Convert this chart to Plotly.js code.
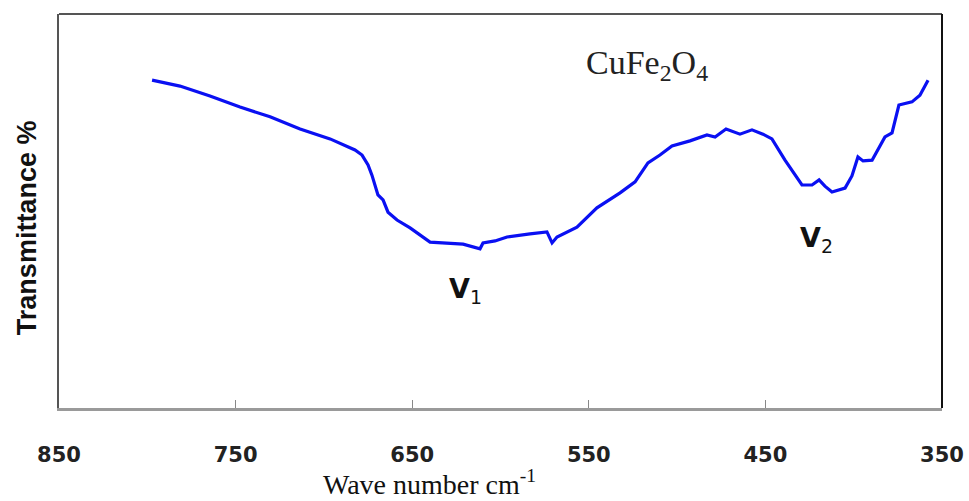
<!DOCTYPE html>
<html><head><meta charset="utf-8">
<script src="https://cdn.plot.ly/plotly-3.0.1.min.js"></script>
<style>html,body{margin:0;padding:0;background:#fff}#chart{width:969px;height:501px}</style>
</head><body><div id="chart"></div>
<script>
// Wavenumber (cm-1)
const wavenumber = [797.3,781.5,764.5,747.5,730.5,713.5,696.5,682.4,678.4,675.0,
  672.8,671.1,669.4,666.5,663.7,658.6,651.2,639.9,631.4,621.2,
  611.6,609.9,603.1,596.3,583.3,573.7,570.8,568.0,556.7,545.4,
  532.3,523.8,516.5,509.7,502.9,492.7,483.1,478.5,472.3,464.4,
  457.6,451.4,446.3,438.9,429.3,423.6,419.6,416.3,412.3,404.9,
  401.0,397.6,394.7,389.6,382.3,378.3,374.4,367.0,362.5,357.9];
// Transmittance (arbitrary %)
const transmittance = [83.2,81.7,79.2,76.4,73.9,70.8,68.3,65.5,64.2,61.7,
  59.1,56.6,54.1,52.8,49.7,47.7,45.7,42.1,41.9,41.6,
  40.4,41.9,42.4,43.4,44.2,44.7,41.9,43.4,45.9,50.8,
  54.6,57.4,62.2,64.2,66.5,67.8,69.3,68.8,70.8,69.5,
  70.6,69.5,68.3,62.9,56.6,56.6,57.9,56.3,54.8,55.8,
  58.9,63.7,62.7,62.9,68.8,69.8,76.9,77.7,79.4,83.2];
const xTicks = [850,750,650,550,450,350];
const xTickLabels = ['850','750','650','550','450','350'];

const trace = {
  x: wavenumber, y: transmittance,
  type: 'scatter', mode: 'lines',
  line: {color: '#0a10f2', width: 3.2, shape: 'linear'},
  hoverinfo: 'x+y', showlegend: false
};

const layout = {
  width: 969, height: 501,
  margin: {l: 59, r: 27, t: 14, b: 93},
  paper_bgcolor: '#ffffff', plot_bgcolor: '#ffffff',
  showlegend: false,
  xaxis: {
    range: [850, 350], autorange: false,
    tickmode: 'array', tickvals: xTicks, ticktext: xTickLabels,
    ticks: 'inside', ticklen: 8, tickwidth: 1, tickcolor: '#888',
    showgrid: false, zeroline: false,
    showline: true, linecolor: '#9a9a9a', linewidth: 3,
    ticklabelstandoff: 26,
    tickfont: {family: 'DejaVu Sans, Verdana, sans-serif', size: 21, color: '#222', weight: 'bold'},
    title: {text: ''}
  },
  yaxis: {
    range: [0, 100], autorange: false,
    showticklabels: false, ticks: '', showgrid: false, zeroline: false,
    showline: true, linecolor: '#555', linewidth: 2,
    title: {text: ''}
  },
  shapes: [
    {type: 'line', xref: 'paper', yref: 'paper', x0: 0, x1: 1, y0: 1, y1: 1, line: {color: '#555', width: 2}},
    {type: 'line', xref: 'paper', yref: 'paper', x0: 1, x1: 1, y0: 0, y1: 1, line: {color: '#111', width: 2}}
  ],
  annotations: [
    {text: 'CuFe<sub>2</sub>O<sub>4</sub>', xref: 'x', yref: 'y', x: 517, y: 87, showarrow: false,
      font: {family: 'Liberation Serif, Times New Roman, serif', size: 34, color: '#222'}},
    {text: '<b>V</b><sub>1</sub>', xref: 'x', yref: 'y', x: 620, y: 29.8, showarrow: false,
      font: {family: 'DejaVu Sans, Verdana, sans-serif', size: 27, color: '#111'}},
    {text: '<b>V</b><sub>2</sub>', xref: 'x', yref: 'y', x: 421, y: 42.8, showarrow: false,
      font: {family: 'DejaVu Sans, Verdana, sans-serif', size: 27, color: '#111'}},
    {text: 'Transmittance %', xref: 'paper', yref: 'paper', x: -0.036, y: 0.457, xanchor: 'center', yanchor: 'middle',
      textangle: -90, showarrow: false,
      font: {family: 'Arial, Liberation Sans, sans-serif', size: 27, color: '#111', weight: 'bold'}},
    {text: 'Wave number cm<sup>-1</sup>', xref: 'paper', yref: 'paper', x: 0.42, y: -0.19, yanchor: 'middle', showarrow: false,
      font: {family: 'Liberation Serif, Times New Roman, serif', size: 28, color: '#111'}}
  ]
};

Plotly.newPlot('chart', [trace], layout, {displayModeBar: false, staticPlot: true});
</script>
</body></html>
